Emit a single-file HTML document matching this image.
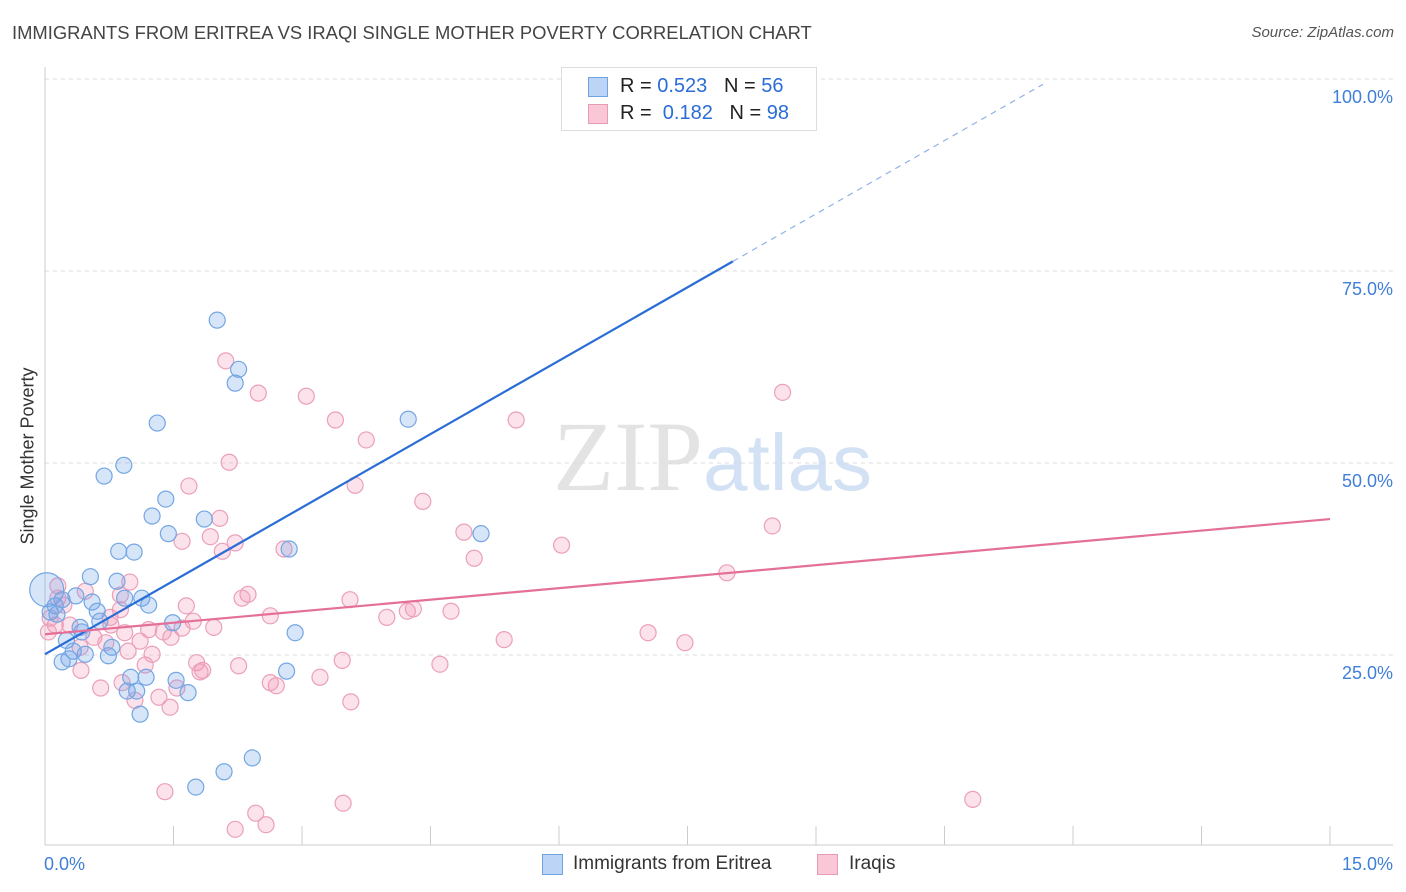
<!DOCTYPE html>
<html><head><meta charset="utf-8"><style>
body{margin:0;background:#fff;font-family:"Liberation Sans",sans-serif;}
#wrap{position:relative;width:1406px;height:892px;overflow:hidden;}
.t{position:absolute;white-space:nowrap;}
</style></head><body>
<div id="wrap">
<div class="t" style="left:12px;top:22px;font-size:18.4px;color:#444;">IMMIGRANTS FROM ERITREA VS IRAQI SINGLE MOTHER POVERTY CORRELATION CHART</div>
<div class="t" style="right:12px;top:24px;font-size:15px;color:#555;font-style:italic;">Source: ZipAtlas.com</div>
<div class="t" style="left:28px;top:456px;font-size:18px;color:#333;transform:translate(-50%,-50%) rotate(-90deg);">Single Mother Poverty</div>
<svg id="svg" width="1406" height="892" style="position:absolute;left:0;top:0"></svg>
<div style="position:absolute;left:561px;top:67px;width:254px;height:62px;border:1px solid #ddd;background:#fff;">
 <div style="position:absolute;left:26px;top:9px;width:18px;height:18px;background:#bcd4f5;border:1px solid #6fa3e0;"></div>
 <div class="t" style="left:58px;top:7px;font-size:20px;color:#222;">R = <span style="color:#2a6dd6">0.523</span> &nbsp; N = <span style="color:#2a6dd6">56</span></div>
 <div style="position:absolute;left:26px;top:36px;width:18px;height:18px;background:#f9c7d6;border:1px solid #e899b5;"></div>
 <div class="t" style="left:58px;top:34px;font-size:20px;color:#222;">R = &nbsp;<span style="color:#2a6dd6">0.182</span> &nbsp; N = <span style="color:#2a6dd6">98</span></div>
</div>
<div>
 <div style="position:absolute;left:542px;top:854px;width:19px;height:19px;background:#bcd4f5;border:1px solid #6fa3e0;"></div>
 <div class="t" style="left:573px;top:853px;font-size:19px;color:#333;">Immigrants from Eritrea</div>
 <div style="position:absolute;left:817px;top:854px;width:19px;height:19px;background:#f9c7d6;border:1px solid #e899b5;"></div>
 <div class="t" style="left:849px;top:853px;font-size:19px;color:#333;">Iraqis</div>
</div>
</div>
<script>
const xTicks=[0,1.5,3,4.5,6,7.5,9,10.5,12,13.5,15];
const yTicks=[25,50,75,100];
const yTickLabels=["25.0%","50.0%","75.0%","100.0%"];
const xLabels=["0.0%","15.0%"];
const blueX=[2.01,2.26,2.22,1.31,4.24,0.92,0.69,1.41,1.25,1.86,1.44,5.09,0.86,1.04,2.85,0.53,0.84,0.02,0.36,1.13,0.55,0.93,1.21,0.12,0.61,0.14,0.64,1.49,0.41,0.43,2.92,0.25,0.78,0.33,0.47,0.74,0.28,0.2,2.82,1.0,1.18,1.53,0.96,1.07,1.67,1.11,2.42,2.09,1.76,6.76,0.06,0.2];
const blueY=[68.6,62.2,60.4,55.2,55.7,49.7,48.3,45.3,43.1,42.7,40.8,40.8,38.5,38.4,38.8,35.2,34.6,33.5,32.7,32.4,31.9,32.4,31.5,31.4,30.7,30.3,29.4,29.2,28.6,28.0,27.9,26.9,26.0,25.5,25.1,24.9,24.5,24.1,22.9,22.1,22.1,21.7,20.3,20.3,20.1,17.3,11.6,9.8,7.8,100.1,30.6,32.2];
const pinkX=[2.11,2.49,3.05,8.61,3.39,5.5,3.75,2.15,1.68,3.62,4.41,2.04,8.49,4.89,1.6,2.22,6.03,1.93,2.79,2.07,5.01,7.96,0.99,0.15,2.37,2.3,3.56,1.65,0.88,2.63,3.99,4.23,4.3,4.74,1.73,1.97,0.77,1.21,1.38,1.6,7.04,7.47,5.36,1.47,0.93,0.57,0.71,0.41,0.97,1.25,3.47,4.61,2.26,1.77,1.17,0.42,1.81,3.21,1.84,2.63,2.7,0.9,0.65,1.54,1.33,1.05,1.46,3.57,0.22,0.06,0.29,0.47,0.88,1.4,3.48,10.83,2.46,2.22,2.58,0.12,0.04,0.15,0.76,1.11];
const pinkY=[63.3,59.1,58.7,59.2,55.6,55.6,53.0,50.1,47.0,47.1,45.0,42.8,41.8,41.0,39.8,39.6,39.3,40.4,38.8,38.5,37.6,35.7,34.5,34.0,32.9,32.4,32.2,31.4,30.9,30.1,29.9,30.7,31.0,30.7,29.4,28.6,28.9,28.3,28.0,28.5,27.9,26.6,27.0,27.3,27.9,27.3,26.6,26.0,25.5,25.1,24.3,23.8,23.6,24.0,23.7,23.0,22.8,22.1,23.0,21.4,21.0,21.4,20.7,20.7,19.5,19.1,18.2,18.9,31.5,29.8,28.9,33.3,32.8,7.2,5.7,6.2,4.4,2.3,2.9,28.9,28.0,32.4,29.9,26.8];
const blueLine=[25.1,6.37]; // intercept, slope
const pinkLine=[27.7,1.0];
const X=v=>45+v/15*1285, Y=v=>847-v/100*768;
const svg=document.getElementById('svg'),NS='http://www.w3.org/2000/svg';
function mk(t,a){const e=document.createElementNS(NS,t);for(const k in a)e.setAttribute(k,a[k]);svg.appendChild(e);return e;}
let e;
yTicks.forEach((v,i)=>{
 e=mk('line',{x1:45,x2:1393,y1:Y(v),y2:Y(v),stroke:'#ddd','stroke-dasharray':'4,4'});
 
 
 e=mk('text',{x:1393,y:Y(v)+24,'text-anchor':'end','font-size':18,fill:'#3f7fd8','font-family':'Liberation Sans'});e.textContent=yTickLabels[i];
 
 
});
e=mk('line',{x1:45,x2:45,y1:67,y2:845,stroke:'#ccc'});


e=mk('line',{x1:45,x2:1393,y1:845,y2:845,stroke:'#ccc'});


xTicks.forEach(v=>{
 e=mk('line',{x1:X(v),x2:X(v),y1:826,y2:845,stroke:'#ccc'});
 
 
});
e=mk('text',{x:44,y:870,'font-size':18,fill:'#3f7fd8','font-family':'Liberation Sans'});e.textContent=xLabels[0];


e=mk('text',{x:1393,y:870,'text-anchor':'end','font-size':18,fill:'#3f7fd8','font-family':'Liberation Sans'});e.textContent=xLabels[1];


e=mk('text',{x:553,y:490,'text-anchor':'start','font-size':100,fill:'#ddd','font-family':'Liberation Serif'});e.textContent='ZIP';


e.setAttribute('opacity','0.8');
const ts=document.createElementNS(NS,'tspan');ts.setAttribute('fill','#c8daf2');ts.setAttribute('font-family','Liberation Sans');ts.setAttribute('font-size','80');ts.textContent='atlas';e.appendChild(ts);
pinkX.forEach((x,i)=>{
 e=mk('circle',{cx:X(x),cy:Y(pinkY[i]),r:8,fill:'rgba(243,150,180,0.28)',stroke:'#eb9fbb','stroke-width':1.2});
 
 
});
blueX.forEach((x,i)=>{
 e=mk('circle',{cx:X(x),cy:Y(blueY[i]),r:i==17?17:8,fill:'rgba(110,160,235,0.28)',stroke:'#73a6e3','stroke-width':1.2});
 
 
});
const bx2=8.03,bx3=11.65;
e=mk('line',{x1:X(0),y1:Y(blueLine[0]),x2:X(bx2),y2:Y(blueLine[0]+blueLine[1]*bx2),stroke:'#2a6dd6','stroke-width':2.2});


e=mk('line',{x1:X(bx2),y1:Y(blueLine[0]+blueLine[1]*bx2),x2:X(bx3),y2:Y(blueLine[0]+blueLine[1]*bx3),stroke:'#8fb3e6','stroke-width':1.2,'stroke-dasharray':'6,5'});


e=mk('line',{x1:X(0),y1:Y(pinkLine[0]),x2:X(15),y2:Y(pinkLine[0]+pinkLine[1]*15),stroke:'#e4709a','stroke-width':2.2});


</script>
</body></html>
